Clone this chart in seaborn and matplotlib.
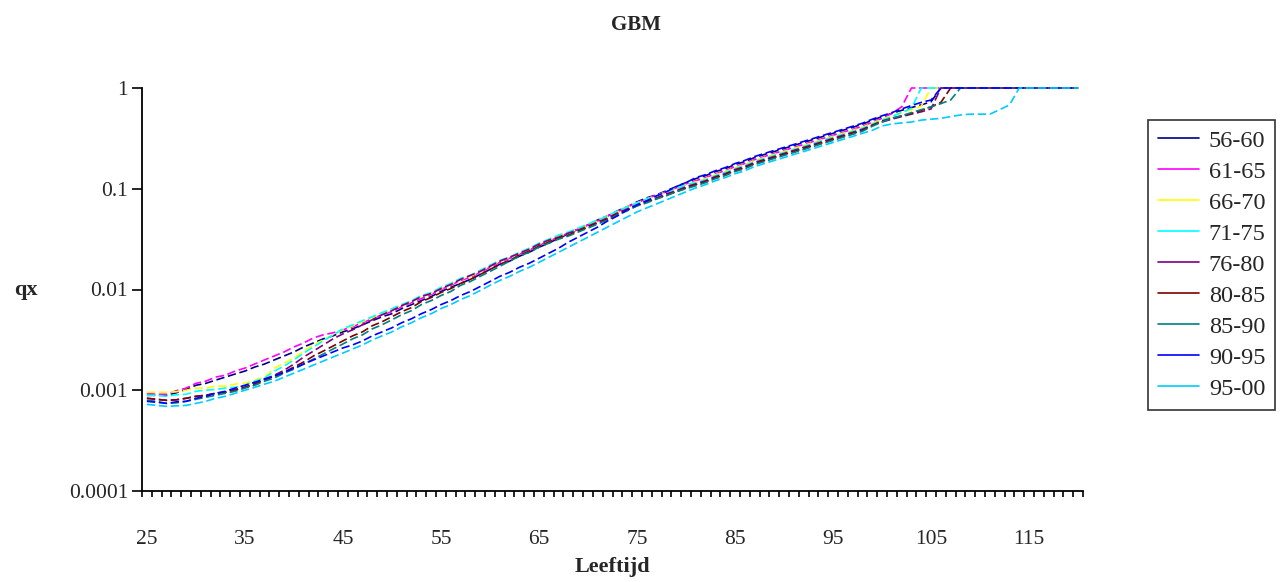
import matplotlib
matplotlib.use("Agg")
import matplotlib.pyplot as plt
import matplotlib.ticker as mticker
import seaborn as sns
import pandas as pd

ages = list(range(25, 121))
periods = ["56-60", "61-65", "66-70", "71-75", "76-80", "80-85", "85-90", "90-95", "95-00"]
colors = ["#000080", "#FF00FF", "#FFFF00", "#00FFFF", "#800080", "#800000", "#008080", "#0000FF", "#00CCFF"]

q_5660 = [0.000891, 0.000891, 0.000891, 0.000944, 0.00102, 0.00112, 0.00117, 0.00126, 0.00135, 0.00145,
          0.00155, 0.00170, 0.00182, 0.00200, 0.00219, 0.00240, 0.00269, 0.00295, 0.00324, 0.00347,
          0.00380, 0.00407, 0.00447, 0.00490, 0.00537, 0.00575, 0.00646, 0.00708, 0.00776, 0.00851,
          0.00955, 0.0105, 0.0115, 0.0126, 0.0141, 0.0158, 0.0178, 0.0191, 0.0214, 0.0234,
          0.0263, 0.0288, 0.0324, 0.0355, 0.0398, 0.0437, 0.0490, 0.0537, 0.0603, 0.0661,
          0.0741, 0.0813, 0.0871, 0.0955, 0.105, 0.115, 0.126, 0.135, 0.148, 0.158,
          0.174, 0.186, 0.204, 0.219, 0.234, 0.251, 0.269, 0.288, 0.309, 0.331,
          0.355, 0.380, 0.407, 0.437, 0.479,
          0.52, 0.56, 0.60, 0.64, 0.68, 0.73,
          1, 1, 1, 1, 1, 1, 1, 1, 1, 1, 1, 1, 1, 1, 1]
q_6165 = [0.000933, 0.000912, 0.000912, 0.000989, 0.00105, 0.00117, 0.00123, 0.00135, 0.00141, 0.00155,
          0.00166, 0.00182, 0.00200, 0.00219, 0.00240, 0.00269, 0.00295, 0.00331, 0.00355, 0.00372,
          0.00398, 0.00427, 0.00468, 0.00513, 0.00562, 0.00603, 0.00676, 0.00741, 0.00813, 0.00891,
          0.0100, 0.0110, 0.0123, 0.0132, 0.0148, 0.0166, 0.0186, 0.0204, 0.0224, 0.0245,
          0.0275, 0.0302, 0.0331, 0.0363, 0.0398, 0.0437, 0.0479, 0.0537, 0.0589, 0.0661,
          0.0724, 0.0794, 0.0871, 0.0933, 0.102, 0.112, 0.120, 0.129, 0.141, 0.151,
          0.166, 0.178, 0.195, 0.209, 0.224, 0.240, 0.257, 0.275, 0.295, 0.316,
          0.339, 0.363, 0.389, 0.417, 0.457,
          0.50, 0.56, 0.65,
          1, 1, 1, 1, 1, 1, 1, 1, 1, 1, 1, 1, 1, 1, 1, 1, 1, 1]
q_6670 = [0.000955, 0.000955, 0.000955, 0.000966, 0.00100, 0.00105, 0.00105, 0.00110, 0.00110, 0.00115,
          0.00117, 0.00126, 0.00135, 0.00166, 0.00186, 0.00209, 0.00245, 0.00282, 0.00316, 0.00355,
          0.00398, 0.00437, 0.00479, 0.00525, 0.00575, 0.00631, 0.00692, 0.00759, 0.00851, 0.00912,
          0.0102, 0.0112, 0.0126, 0.0135, 0.0151, 0.0170, 0.0191, 0.0209, 0.0229, 0.0251,
          0.0282, 0.0309, 0.0339, 0.0363, 0.0398, 0.0437, 0.0479, 0.0537, 0.0589, 0.0661,
          0.0724, 0.0794, 0.0851, 0.0933, 0.100, 0.110, 0.117, 0.126, 0.138, 0.148,
          0.162, 0.174, 0.191, 0.204, 0.219, 0.234, 0.251, 0.269, 0.288, 0.309,
          0.331, 0.355, 0.380, 0.407, 0.447,
          0.49, 0.53, 0.57, 0.61, 0.66,
          1, 1, 1, 1, 1, 1, 1, 1, 1, 1, 1, 1, 1, 1, 1, 1]
q_7175 = [0.000891, 0.000891, 0.000871, 0.000902, 0.000912, 0.000977, 0.00100, 0.00102, 0.00105, 0.00107,
          0.00112, 0.00123, 0.00132, 0.00155, 0.00174, 0.00200, 0.00234, 0.00269, 0.00309, 0.00355,
          0.00407, 0.00447, 0.00490, 0.00537, 0.00589, 0.00646, 0.00708, 0.00776, 0.00871, 0.00933,
          0.0105, 0.0115, 0.0129, 0.0138, 0.0155, 0.0174, 0.0195, 0.0209, 0.0234, 0.0257,
          0.0288, 0.0316, 0.0347, 0.0372, 0.0407, 0.0447, 0.0490, 0.0537, 0.0603, 0.0661,
          0.0724, 0.0794, 0.0851, 0.0933, 0.100, 0.110, 0.115, 0.123, 0.135, 0.145,
          0.158, 0.170, 0.186, 0.200, 0.214, 0.229, 0.245, 0.263, 0.282, 0.302,
          0.324, 0.347, 0.372, 0.398, 0.437,
          0.48, 0.52, 0.57, 0.63,
          1, 1, 1, 1, 1, 1, 1, 1, 1, 1, 1, 1, 1, 1, 1, 1, 1]
q_7680 = [0.000832, 0.000813, 0.000794, 0.000804, 0.000832, 0.000871, 0.000891, 0.000933, 0.000955, 0.00102,
          0.00107, 0.00117, 0.00129, 0.00141, 0.00158, 0.00182, 0.00214, 0.00245, 0.00282, 0.00324,
          0.00363, 0.00398, 0.00447, 0.00501, 0.00562, 0.00617, 0.00692, 0.00759, 0.00851, 0.00912,
          0.0102, 0.0112, 0.0126, 0.0138, 0.0151, 0.0170, 0.0191, 0.0209, 0.0229, 0.0251,
          0.0282, 0.0309, 0.0331, 0.0363, 0.0389, 0.0427, 0.0468, 0.0513, 0.0575, 0.0631,
          0.0692, 0.0759, 0.0813, 0.0891, 0.0955, 0.105, 0.112, 0.120, 0.132, 0.141,
          0.155, 0.166, 0.182, 0.195, 0.209, 0.224, 0.240, 0.257, 0.275, 0.295,
          0.316, 0.339, 0.363, 0.389, 0.427,
          0.46, 0.49, 0.52, 0.55, 0.58, 0.62,
          1, 1, 1, 1, 1, 1, 1, 1, 1, 1, 1, 1, 1, 1, 1]
q_8085 = [0.000832, 0.000813, 0.000794, 0.000804, 0.000832, 0.000871, 0.000891, 0.000933, 0.000955, 0.00100,
          0.00107, 0.00115, 0.00126, 0.00138, 0.00151, 0.00170, 0.00191, 0.00219, 0.00245, 0.00275,
          0.00309, 0.00347, 0.00380, 0.00437, 0.00479, 0.00537, 0.00603, 0.00661, 0.00759, 0.00832,
          0.00933, 0.0102, 0.0115, 0.0126, 0.0141, 0.0158, 0.0178, 0.0195, 0.0219, 0.0240,
          0.0269, 0.0295, 0.0324, 0.0347, 0.0380, 0.0417, 0.0457, 0.0501, 0.0562, 0.0617,
          0.0676, 0.0741, 0.0794, 0.0871, 0.0933, 0.102, 0.110, 0.117, 0.129, 0.138,
          0.151, 0.162, 0.178, 0.191, 0.204, 0.219, 0.234, 0.251, 0.269, 0.288,
          0.309, 0.331, 0.355, 0.380, 0.427,
          0.47, 0.50, 0.53, 0.56, 0.60, 0.65, 0.72,
          1, 1, 1, 1, 1, 1, 1, 1, 1, 1, 1, 1, 1, 1]
q_8590 = [0.000794, 0.000776, 0.000741, 0.000750, 0.000776, 0.000813, 0.000851, 0.000891, 0.000933, 0.000977,
          0.00105, 0.00112, 0.00123, 0.00132, 0.00148, 0.00162, 0.00182, 0.00204, 0.00229, 0.00257,
          0.00288, 0.00324, 0.00355, 0.00407, 0.00447, 0.00501, 0.00562, 0.00617, 0.00708, 0.00776,
          0.00871, 0.00955, 0.0110, 0.0120, 0.0135, 0.0151, 0.0170, 0.0191, 0.0214, 0.0234,
          0.0263, 0.0288, 0.0316, 0.0339, 0.0372, 0.0407, 0.0447, 0.0490, 0.0550, 0.0603,
          0.0676, 0.0724, 0.0794, 0.0851, 0.0933, 0.100, 0.107, 0.115, 0.126, 0.135,
          0.148, 0.158, 0.174, 0.186, 0.200, 0.214, 0.229, 0.245, 0.263, 0.282,
          0.302, 0.324, 0.347, 0.372, 0.417,
          0.46, 0.50, 0.53, 0.57, 0.61, 0.65, 0.70, 0.76,
          1, 1, 1, 1, 1, 1, 1, 1, 1, 1, 1, 1, 1]
q_9095 = [0.000776, 0.000759, 0.000741, 0.000767, 0.000776, 0.000832, 0.000871, 0.000933, 0.000977, 0.00105,
          0.00112, 0.00120, 0.00129, 0.00138, 0.00151, 0.00166, 0.00182, 0.00200, 0.00219, 0.00240,
          0.00263, 0.00282, 0.00309, 0.00347, 0.00380, 0.00417, 0.00468, 0.00513, 0.00575, 0.00631,
          0.00708, 0.00776, 0.00871, 0.00955, 0.0107, 0.0120, 0.0135, 0.0148, 0.0166, 0.0182,
          0.0204, 0.0229, 0.0257, 0.0295, 0.0331, 0.0372, 0.0417, 0.0479, 0.0537, 0.0617,
          0.0692, 0.0759, 0.0851, 0.0933, 0.105, 0.115, 0.129, 0.138, 0.151, 0.162,
          0.178, 0.191, 0.209, 0.224, 0.240, 0.257, 0.275, 0.295, 0.316, 0.339,
          0.363, 0.389, 0.417, 0.447, 0.490,
          0.53, 0.57, 0.62, 0.67, 0.72, 0.76,
          1, 1, 1, 1, 1, 1, 1, 1, 1, 1, 1, 1, 1, 1, 1]
q_9500 = [0.000724, 0.000708, 0.000692, 0.000700, 0.000708, 0.000741, 0.000776, 0.000832, 0.000871, 0.000933,
          0.00100, 0.00107, 0.00115, 0.00123, 0.00135, 0.00148, 0.00162, 0.00178, 0.00195, 0.00214,
          0.00234, 0.00257, 0.00282, 0.00316, 0.00347, 0.00380, 0.00427, 0.00468, 0.00525, 0.00575,
          0.00646, 0.00708, 0.00794, 0.00871, 0.00977, 0.0110, 0.0123, 0.0135, 0.0151, 0.0166,
          0.0186, 0.0209, 0.0234, 0.0263, 0.0295, 0.0331, 0.0372, 0.0417, 0.0468, 0.0525,
          0.0589, 0.0646, 0.0708, 0.0776, 0.0851, 0.0933, 0.102, 0.110, 0.120, 0.129,
          0.141, 0.151, 0.166, 0.178, 0.191, 0.204, 0.219, 0.234, 0.251, 0.269,
          0.288, 0.309, 0.331, 0.355, 0.380,
          0.42, 0.44, 0.45, 0.46, 0.48, 0.49, 0.50, 0.52, 0.54, 0.55, 0.55, 0.55, 0.61, 0.68,
          1, 1, 1, 1, 1, 1, 1]

series = [q_5660, q_6165, q_6670, q_7175, q_7680, q_8085, q_8590, q_9095, q_9500]
x_tick_labels = ["25", "35", "45", "55", "65", "75", "85", "95", "105", "115"]
y_ticks = [0.0001, 0.001, 0.01, 0.1, 1]
y_tick_labels = ["0.0001", "0.001", "0.01", "0.1", "1"]

rows = []
for p, vals in zip(periods, series):
    for a, v in zip(ages, vals):
        rows.append({"Leeftijd": a, "qx": v, "periode": p})
df = pd.DataFrame(rows)

sns.set_style("white")
plt.rcParams["font.family"] = ["Liberation Serif", "DejaVu Serif"]

fig = plt.figure(figsize=(12.82, 5.82), dpi=100)
ax = fig.add_axes([142 / 1282, 1 - 491 / 582, (1083 - 142) / 1282, (491 - 88) / 582])

sns.lineplot(data=df, x="Leeftijd", y="qx", hue="periode", style="periode",
             hue_order=periods, style_order=periods,
             palette=colors, dashes=[(5, 2.2)] * len(periods),
             linewidth=1.2, ax=ax, legend="full", clip_on=False)

ax.set_yscale("log")
ax.set_ylim(1e-4, 1)
ax.set_xlim(24.5, 120.5)

ax.yaxis.set_major_locator(mticker.FixedLocator(y_ticks))
ax.yaxis.set_major_formatter(mticker.FixedFormatter(y_tick_labels))
ax.yaxis.set_minor_locator(mticker.NullLocator())

ax.xaxis.set_major_locator(mticker.FixedLocator([int(t) for t in x_tick_labels]))
ax.xaxis.set_major_formatter(mticker.FixedFormatter(x_tick_labels))
ax.xaxis.set_minor_locator(mticker.FixedLocator([a - 0.5 for a in ages] + [ages[-1] + 0.5]))

for s in ["top", "right"]:
    ax.spines[s].set_visible(False)
for s in ["left", "bottom"]:
    ax.spines[s].set_color("black")
    ax.spines[s].set_linewidth(1.3)

ax.tick_params(axis="y", which="major", direction="out", length=7, width=1.2,
               color="black", labelsize=15.5, pad=3, left=True)
ax.tick_params(axis="x", which="major", length=0, labelsize=15.5, pad=28, bottom=True)
ax.tick_params(axis="x", which="minor", direction="out", length=4.5, width=1.2,
               color="black", bottom=True)

ax.set_xlabel("Leeftijd", fontsize=16, fontweight="bold")
ax.xaxis.set_label_coords(0.5, -(567 - 491) / 403)
ax.xaxis.label.set_va("center")
ax.set_ylabel("qx", fontsize=16, fontweight="bold", rotation=0)
ax.yaxis.set_label_coords((26 - 142) / 941, 0.5)
ax.yaxis.label.set_va("center")
ax.yaxis.label.set_ha("center")

fig.text(636 / 1282, 1 - 25 / 582, "GBM", ha="center", va="center",
         fontsize=15, fontweight="bold")

handles, labels = ax.get_legend_handles_labels()
if ax.get_legend() is not None:
    ax.get_legend().remove()
leg = fig.legend(handles, labels, loc="upper left",
                 bbox_to_anchor=(1148 / 1282, 1 - 120 / 582),
                 bbox_transform=fig.transFigure, frameon=True, fancybox=False,
                 fontsize=17.5, labelspacing=0.37, handlelength=1.7,
                 handletextpad=0.4, borderpad=0.4, borderaxespad=0)
leg.get_frame().set_edgecolor("black")
leg.get_frame().set_linewidth(1.2)
for ln in leg.get_lines():
    ln.set_linestyle("-")
    ln.set_linewidth(1.2)

fig.savefig("out.png", dpi=100)
